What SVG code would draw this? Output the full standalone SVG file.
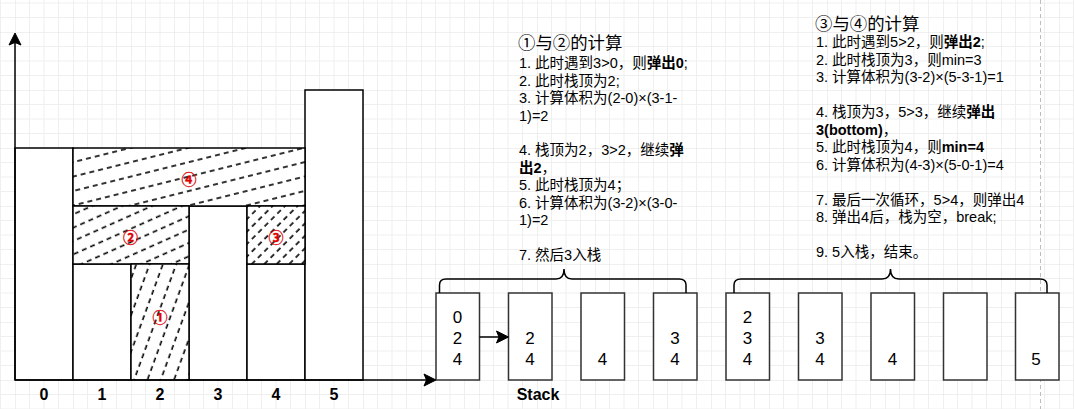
<svg xmlns="http://www.w3.org/2000/svg" width="1074" height="409" viewBox="0 0 1074 409">
<style>
.bar{fill:#fff;stroke:#000;stroke-width:1.5}
.water{stroke:#000;stroke-width:1.5}
.hl{stroke:#000;stroke-width:1.6;stroke-dasharray:5 4}
.box{fill:#fff;stroke:#333;stroke-width:1.5}
.ax{fill:none;stroke:#000;stroke-width:1.5}
.brace{fill:none;stroke:#000;stroke-width:1.5}
.ah{fill:#000;stroke:#000;stroke-width:1}
.lbl{font-family:"Liberation Sans","Noto Sans CJK SC",sans-serif;font-size:16px;font-weight:bold;text-anchor:middle;fill:#000}
.num{font-family:"Liberation Sans","Noto Sans CJK SC",sans-serif;font-size:17px;text-anchor:middle;fill:#000}
.circ{font-family:"Noto Sans CJK SC",sans-serif;font-size:15px;font-weight:bold;text-anchor:middle;dominant-baseline:central;fill:#e00000;stroke:#e00000;stroke-width:0.3}
.txt{font-family:"Liberation Sans","Noto Sans CJK SC",sans-serif;font-size:14.5px;fill:#000}
.ttl{font-family:"Liberation Sans","Noto Sans CJK SC",sans-serif;font-size:17.4px;fill:#000}
.b{font-weight:bold}
</style>
<defs>
<pattern id="grid" patternUnits="userSpaceOnUse" x="15" y="32" width="58" height="58">
<path d="M14.5,0V58M29,0V58M43.5,0V58M0,14.5H58M0,29H58M0,43.5H58" stroke="#efefef" stroke-width="1" fill="none"/>
<path d="M0,0V58M0,0H58" stroke="#e2e2e2" stroke-width="1" fill="none"/>
</pattern>
<pattern id="h4" patternUnits="userSpaceOnUse" width="9" height="14" patternTransform="rotate(-14)"><line x1="0" y1="7" x2="9" y2="7" class="hl"/></pattern>
<pattern id="h2" patternUnits="userSpaceOnUse" width="9" height="12.2" patternTransform="rotate(-24)"><line x1="0" y1="6" x2="9" y2="6" class="hl"/></pattern>
<pattern id="h3" patternUnits="userSpaceOnUse" width="9" height="8.8" patternTransform="rotate(-45)"><line x1="0" y1="4" x2="9" y2="4" class="hl"/></pattern>
<pattern id="h1" patternUnits="userSpaceOnUse" width="9" height="12.5" patternTransform="rotate(-70)"><line x1="0" y1="6" x2="9" y2="6" class="hl"/></pattern>
</defs>
<rect width="1074" height="409" fill="#fff"/>
<rect width="1074" height="409" fill="url(#grid)"/>
<line x1="1040.5" y1="0" x2="1040.5" y2="409" stroke="#bdbdbd" stroke-width="1" stroke-dasharray="4 3"/>

<g id="bar0"><rect class="bar" x="15" y="148" width="58" height="232"/></g>
<g id="bar1"><rect class="bar" x="73" y="264" width="58" height="116"/></g>
<g id="bar3"><rect class="bar" x="189" y="206" width="58" height="174"/></g>
<g id="bar4"><rect class="bar" x="247" y="264" width="58" height="116"/></g>
<g id="bar5"><rect class="bar" x="305" y="90" width="58" height="290"/></g>

<g id="water4"><rect x="73" y="148" width="232" height="58" fill="#fff"/><rect class="water" x="73" y="148" width="232" height="58" fill="url(#h4)"/><text class="circ" x="189" y="178">④</text></g>
<g id="water2"><rect x="73" y="206" width="116" height="58" fill="#fff"/><rect class="water" x="73" y="206" width="116" height="58" fill="url(#h2)"/><text class="circ" x="130.5" y="236.5">②</text></g>
<g id="water3"><rect x="247" y="206" width="58" height="58" fill="#fff"/><rect class="water" x="247" y="206" width="58" height="58" fill="url(#h3)"/><text class="circ" x="276" y="236">③</text></g>
<g id="water1"><rect x="131" y="264" width="58" height="116" fill="#fff"/><rect class="water" x="131" y="264" width="58" height="116" fill="url(#h1)"/><text class="circ" x="160" y="316">①</text></g>

<g id="axis-labels">
<text class="lbl" x="44" y="400">0</text>
<text class="lbl" x="102" y="400">1</text>
<text class="lbl" x="160" y="400">2</text>
<text class="lbl" x="218" y="400">3</text>
<text class="lbl" x="276" y="400">4</text>
<text class="lbl" x="334" y="400">5</text>
<text class="lbl" x="538" y="399.5">Stack</text>
</g>

<g id="stack0"><rect class="box" x="436" y="293" width="43.5" height="87"/><text class="num" x="457.5" y="322.5">0</text><text class="num" x="457.5" y="343.5">2</text><text class="num" x="457.5" y="364.5">4</text></g>
<g id="stack1"><rect class="box" x="508.5" y="293" width="43.5" height="87"/><text class="num" x="530" y="343.5">2</text><text class="num" x="530" y="364.5">4</text></g>
<g id="stack2"><rect class="box" x="581" y="293" width="43.5" height="87"/><text class="num" x="602.5" y="364.5">4</text></g>
<g id="stack3"><rect class="box" x="653.5" y="293" width="43.5" height="87"/><text class="num" x="675" y="343.5">3</text><text class="num" x="675" y="364.5">4</text></g>
<g id="stack4"><rect class="box" x="726" y="293" width="43.5" height="87"/><text class="num" x="747.5" y="322.5">2</text><text class="num" x="747.5" y="343.5">3</text><text class="num" x="747.5" y="364.5">4</text></g>
<g id="stack5"><rect class="box" x="798.5" y="293" width="43.5" height="87"/><text class="num" x="820" y="343.5">3</text><text class="num" x="820" y="364.5">4</text></g>
<g id="stack6"><rect class="box" x="871" y="293" width="43.5" height="87"/><text class="num" x="892.5" y="364.5">4</text></g>
<g id="stack7"><rect class="box" x="943.5" y="293" width="43.5" height="87"/></g>
<g id="stack8"><rect class="box" x="1015.5" y="293" width="43.5" height="87"/><text class="num" x="1036" y="364.5">5</text></g>

<g id="brace1"><path class="brace" d="M439.5,293V285Q439.5,279 446,279H556Q564,279 564,269Q564,279 572,279H679Q686,279 686,285V293"/></g>
<g id="brace2"><path class="brace" d="M734,293V285Q734,279 741,279H882Q890.5,279 890.5,269Q890.5,279 899,279H1040Q1047,279 1047,285V293"/></g>

<g id="text1">
<text class="ttl" x="518" y="48.5">①与②的计算</text>
<text class="txt" x="519" y="68.3">1. 此时遇到3&gt;0，则<tspan class="b">弹出0</tspan>;</text>
<text class="txt" x="519" y="85.7">2. 此时栈顶为2;</text>
<text class="txt" x="519" y="103.1">3. 计算体积为(2-0)×(3-1-</text>
<text class="txt" x="519" y="120.5">1)=2</text>
<text class="txt" x="519" y="155.3">4. 栈顶为2，3&gt;2，继续<tspan class="b">弹</tspan></text>
<text class="txt" x="519" y="172.7"><tspan class="b">出2</tspan>，</text>
<text class="txt" x="519" y="190.1">5. 此时栈顶为4；</text>
<text class="txt" x="519" y="207.5">6. 计算体积为(3-2)×(3-0-</text>
<text class="txt" x="519" y="224.9">1)=2</text>
<text class="txt" x="519" y="259.7">7. 然后3入栈</text>
</g>

<g id="text2">
<text class="ttl" x="815" y="29.5">③与④的计算</text>
<text class="txt" x="816" y="47.3">1. 此时遇到5&gt;2，则<tspan class="b">弹出2</tspan>;</text>
<text class="txt" x="816" y="64.8">2. 此时栈顶为3，则min=3</text>
<text class="txt" x="816" y="82.3">3. 计算体积为(3-2)×(5-3-1)=1</text>
<text class="txt" x="816" y="117.3">4. 栈顶为3，5&gt;3，继续<tspan class="b">弹出</tspan></text>
<text class="txt" x="816" y="134.8"><tspan class="b">3(bottom)</tspan>，</text>
<text class="txt" x="816" y="152.3">5. 此时栈顶为4，则<tspan class="b">min=4</tspan></text>
<text class="txt" x="816" y="169.8">6. 计算体积为(4-3)×(5-0-1)=4</text>
<text class="txt" x="816" y="204.8">7. 最后一次循环，5&gt;4，则弹出4</text>
<text class="txt" x="816" y="222.3">8. 弹出4后，栈为空，break;</text>
<text class="txt" x="816" y="257.3">9. 5入栈，结束。</text>
</g>

<g id="connectors">
<line class="ax" x1="15" y1="380" x2="15" y2="42"/>
<path class="ah" d="M15,33L21,45L15,42.5L9,45Z"/>
<line class="ax" x1="15" y1="380" x2="427" y2="380"/>
<path class="ah" d="M436,380L424,374L426.5,380L424,386Z"/>
<line class="ax" x1="479.5" y1="337" x2="499" y2="337"/>
<path class="ah" d="M508.5,337L496.5,331L499,337L496.5,343Z"/>
</g>
</svg>
